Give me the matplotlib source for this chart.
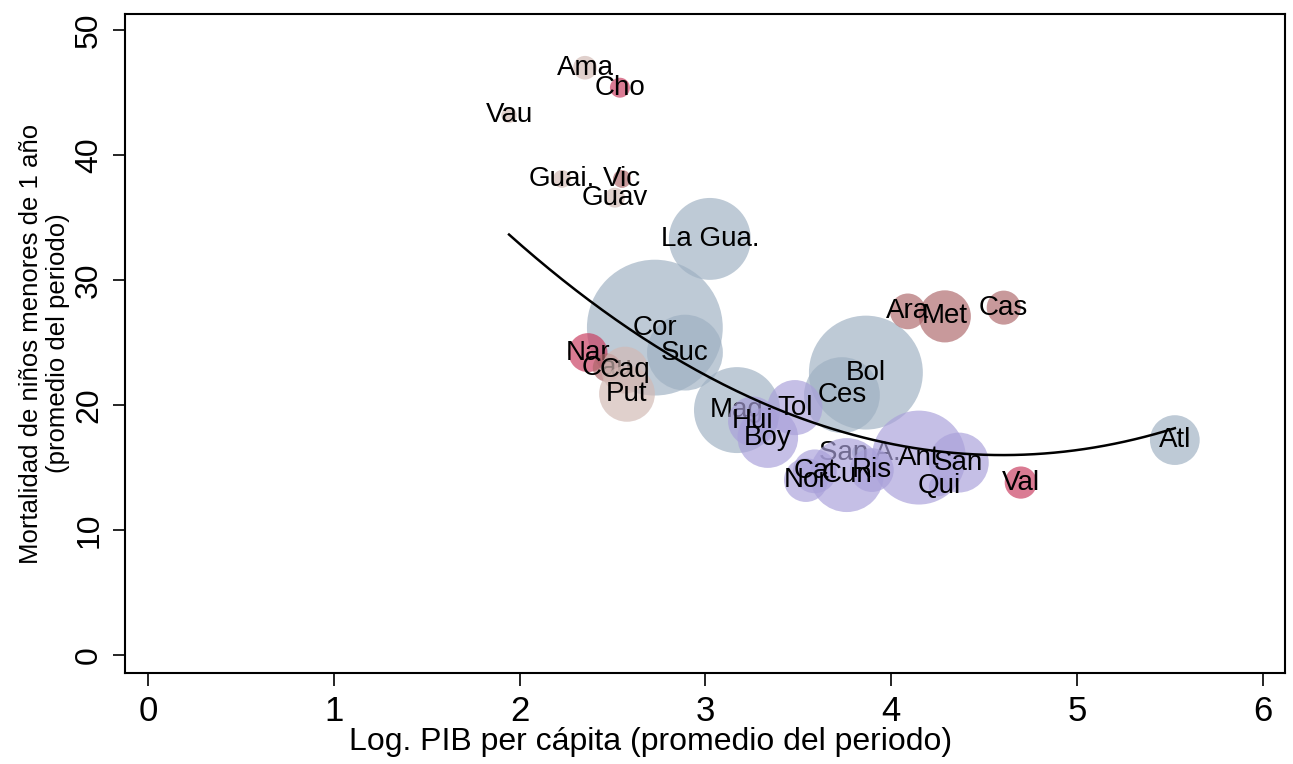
import numpy as np
import matplotlib
matplotlib.use("Agg")
import matplotlib.pyplot as plt

# departamentos: etiqueta, log PIB per capita, mortalidad infantil, peso, grupo
etiquetas = ["La Gua.", "Cor", "Suc", "Mag", "Bol", "Ces", "Atl", "San A.",
             "Hui", "Boy", "Tol", "Cat", "Nor", "Cun", "Ris", "Ant", "San", "Qui",
             "Cho", "Nar", "Val",
             "Vic", "Cau", "Ara", "Met", "Cas",
             "Ama", "Vau", "Guai.", "Guav", "Caq", "Put"]
log_pib = [3.024, 2.728, 2.890, 3.170, 3.864, 3.735, 5.527, 3.831,
           3.256, 3.336, 3.482, 3.589, 3.541, 3.761, 3.896, 4.149, 4.364, 4.257,
           2.540, 2.368, 4.698,
           2.551, 2.470, 4.090, 4.289, 4.606,
           2.352, 1.943, 2.228, 2.513, 2.567, 2.578]
mortalidad = [33.3, 26.2, 24.2, 19.6, 22.6, 20.8, 17.2, 16.2,
              18.7, 17.4, 19.8, 14.7, 14.0, 14.4, 14.8, 15.8, 15.4, 13.5,
              45.4, 24.2, 13.8,
              38.1, 23.0, 27.5, 27.1, 27.8,
              47.0, 43.2, 38.1, 36.6, 22.8, 20.9]
peso = [168, 462, 144, 185, 325, 144, 62, 6,
        62, 92, 76, 48, 48, 137, 48, 221, 90, 10,
        10, 38, 26,
        8, 20, 32, 68, 29,
        14, 6, 8, 10, 55, 78]
grupo = [0, 0, 0, 0, 0, 0, 0, 0,
         1, 1, 1, 1, 1, 1, 1, 1, 1, 1,
         2, 2, 2,
         3, 3, 3, 3, 3,
         4, 4, 4, 4, 4, 4]
colores = ["#9eb0c2", "#a9a0da", "#c93a5e", "#ad676a", "#d2b9b4"]

# coeficientes del ajuste cuadratico (a, b, c)
ajuste_cuad = [2.5, -23.0, 68.9]

x = np.array(log_pib)
y = np.array(mortalidad)
w = np.array(peso, dtype=float)
g = np.array(grupo)

fig = plt.figure(figsize=(12.93, 7.64), dpi=100)
ax = fig.add_axes([0.0967, 0.1191, 0.8971, 0.8626])

# cada grupo: primero las burbujas, luego sus etiquetas
for k, col in enumerate(colores):
    idx = np.where(g == k)[0]
    z = 2 + 2 * k
    ax.scatter(x[idx], y[idx], s=w[idx] * 20.7, color=col, alpha=0.67,
               linewidths=0, zorder=z)
    for i in idx:
        ax.text(x[i], y[i], etiquetas[i], ha="center", va="center", fontsize=20,
                family="Liberation Sans", color="black", zorder=z + 1)

xs = np.linspace(x.min(), x.max(), 200)
ax.plot(xs, np.polyval(ajuste_cuad, xs), color="black", lw=1.8, zorder=50)

ax.set_xlim(-0.124, 6.12)
ax.set_ylim(-1.44, 51.3)
ax.set_xticks(range(0, 7))
ax.set_yticks(range(0, 51, 10))
ax.set_xticklabels([str(v) for v in range(0, 7)], family="Liberation Sans", fontsize=25)
ax.set_yticklabels([str(v) for v in range(0, 51, 10)], family="Liberation Sans",
                   fontsize=23, rotation=90, va="center")
ax.tick_params(axis="both", direction="out", length=9, width=1.2, color="black")
ax.tick_params(axis="x", pad=7)
ax.tick_params(axis="y", pad=6)
for sp in ax.spines.values():
    sp.set_linewidth(1.5)

ax.set_ylabel("Mortalidad de niños menores de 1 año\n(promedio del periodo)",
              family="Liberation Sans", fontsize=18.5, labelpad=3, linespacing=1.15)
fig.text(0.503, 1 - 742 / 764, "Log. PIB per cápita (promedio del periodo)",
         ha="center", va="center", family="Liberation Sans", fontsize=23)

fig.savefig("out.png", dpi=100)
